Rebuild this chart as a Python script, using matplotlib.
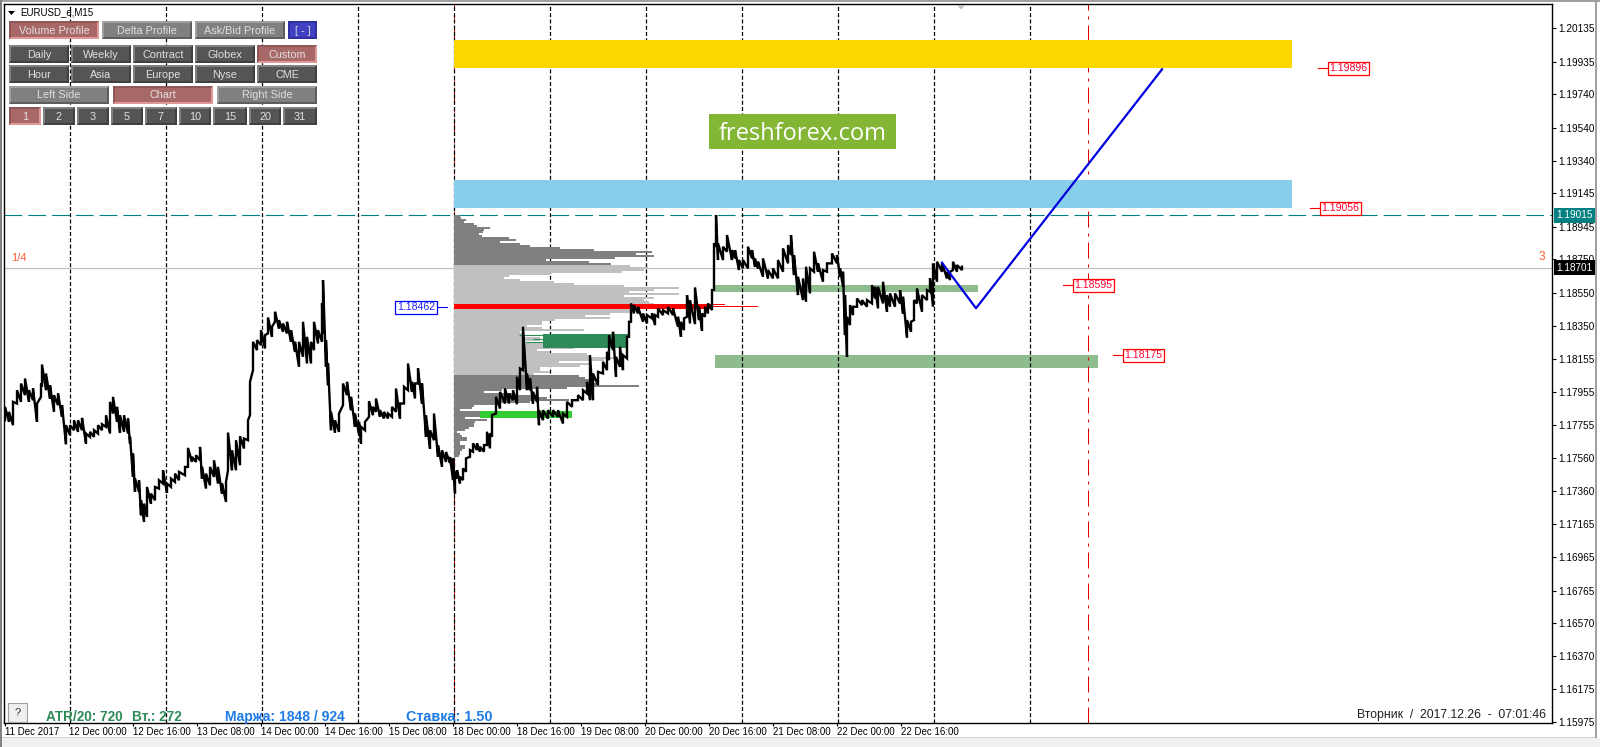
import matplotlib
matplotlib.use("Agg")
import matplotlib.pyplot as plt
from matplotlib.patches import Rectangle, Polygon

plt.rcParams["font.family"] = ["Liberation Sans", "DejaVu Sans"]

# price bars, x is the bar number on the chart, prices in points (1e-5)
bar_x = [5, 9, 13, 17, 21, 25, 29, 33, 37, 41, 42, 46, 50, 54, 58, 62, 66, 70, 74, 78, 82, 86, 90, 94, 98, 102, 106, 110, 113, 117,
         120, 124, 128, 130, 133, 135, 139, 141, 144, 147, 151, 155, 159, 163, 167, 171, 175, 179, 185, 188, 192, 196, 200, 202, 206, 210, 214, 218, 222, 226,
         228, 232, 236, 240, 244, 248, 250, 253, 257, 261, 265, 268, 272, 275, 279, 283, 287, 291, 295, 299, 303, 307, 311, 314, 318, 322, 323, 326, 328, 331,
         335, 339, 343, 347, 351, 355, 359, 361, 365, 369, 373, 376, 380, 384, 388, 392, 396, 400, 404, 408, 412, 415, 418, 422, 426, 430, 434, 438, 442, 446, 450,
         453, 455, 457, 460, 463, 466, 470, 473, 477, 480, 484, 487, 490, 492,
         496, 500, 505, 509, 513, 517, 520, 523, 527, 530, 533, 537, 539, 543, 548, 553, 558, 563, 567, 572, 578, 583, 587, 590, 593, 598, 603, 607, 609, 613, 616, 620, 623, 627, 629, 631,
         634, 638, 643, 647, 652, 655, 658, 663, 668, 673, 678, 681, 684, 687, 690, 695, 699, 702, 705, 708, 712, 714, 716,
         718, 723, 727, 732, 735, 739, 743, 748, 752, 755, 758, 763, 768, 773, 778, 783, 788, 791, 794, 798, 803, 806, 810, 814, 818, 823, 827, 832, 837, 840, 843, 845, 847,
         850, 853, 857, 862, 867, 872, 875, 878, 883, 887, 890, 895, 900, 903, 907, 911, 914, 917, 922, 927, 930, 933, 937, 942, 947, 950, 953, 957, 962]
bar_high = [117866, 117836, 117896, 117966, 118006, 118036, 117966, 117976, 117886, 118006, 118120, 118066, 117996, 117936, 117946, 117876, 117756, 117756, 117786, 117786, 117800, 117706, 117716, 117726, 117756, 117762, 117816, 117896, 117926, 117866,
            117816, 117816, 117796, 117686, 117586, 117436, 117426, 117306, 117286, 117386, 117346, 117386, 117426, 117486, 117406, 117436, 117466, 117476, 117506, 117620, 117566, 117576, 117626, 117506, 117466, 117506, 117546, 117506, 117406, 117416,
            117712, 117606, 117666, 117690, 117676, 117786, 118016, 118256, 118266, 118326, 118296, 118402, 118346, 118436, 118386, 118366, 118376, 118326, 118256, 118256, 118376, 118286, 118256, 118376, 118326, 118486, 118626, 118266, 118126, 117836,
            117786, 117826, 118006, 118016, 117926, 117826, 117776, 117746, 117776, 117900, 117866, 117916, 117846, 117836, 117826, 117866, 117976, 117886, 117986, 118126, 118016, 118006, 118096, 118006, 117816, 117726, 117826, 117636, 117606, 117596, 117566,
            117557, 117477, 117487, 117447, 117497, 117557, 117607, 117647, 117647, 117627, 117637, 117717, 117707, 117817,
            117926, 117956, 117976, 117946, 117966, 118046, 118096, 118346, 118066, 118036, 117956, 117986, 117846, 117846, 117846, 117846, 117846, 117826, 117896, 117906, 117936, 117966, 118016, 118176, 118066, 118076, 118136, 118196, 118296, 118316, 118166, 118226, 118176, 118286, 118376, 118486,
            118476, 118466, 118426, 118416, 118426, 118416, 118456, 118446, 118466, 118456, 118406, 118376, 118396, 118536, 118506, 118582, 118466, 118426, 118466, 118486, 118566, 118846, 119016,
            118846, 118826, 118896, 118806, 118806, 118746, 118746, 118826, 118806, 118756, 118736, 118756, 118686, 118696, 118746, 118816, 118836, 118896, 118776, 118646, 118636, 118706, 118696, 118796, 118726, 118686, 118726, 118786, 118776, 118696, 118676, 118536, 118406,
            118476, 118466, 118516, 118506, 118506, 118596, 118586, 118586, 118616, 118536, 118546, 118546, 118566, 118526, 118386, 118376, 118506, 118576, 118536, 118566, 118636, 118726, 118736, 118726, 118676, 118676, 118736, 118716, 118706]
bar_low = [117786, 117776, 117756, 117886, 117896, 117936, 117896, 117906, 117776, 117926, 117986, 117966, 117916, 117836, 117876, 117806, 117642, 117696, 117726, 117716, 117726, 117646, 117686, 117686, 117706, 117726, 117746, 117706, 117826, 117776,
           117710, 117716, 117706, 117646, 117446, 117356, 117356, 117216, 117176, 117206, 117286, 117306, 117376, 117406, 117350, 117386, 117416, 117426, 117456, 117506, 117536, 117536, 117546, 117436, 117376, 117396, 117446, 117406, 117346, 117296,
           117486, 117486, 117486, 117516, 117616, 117666, 117816, 118086, 118206, 118236, 118216, 118306, 118286, 118376, 118336, 118316, 118306, 118256, 118196, 118106, 118166, 118126, 118126, 118206, 118246, 118256, 118306, 118106, 117996, 117726,
           117710, 117716, 117876, 117936, 117846, 117746, 117706, 117646, 117726, 117806, 117816, 117836, 117806, 117796, 117796, 117806, 117836, 117796, 117886, 117966, 117956, 117916, 118006, 117886, 117686, 117616, 117666, 117566, 117506, 117536, 117530,
           117427, 117347, 117437, 117407, 117427, 117477, 117567, 117597, 117607, 117597, 117597, 117637, 117617, 117687,
           117826, 117856, 117886, 117886, 117906, 117882, 117966, 118086, 117966, 117966, 117886, 117896, 117756, 117786, 117796, 117806, 117806, 117766, 117806, 117866, 117906, 117906, 117946, 117906, 117906, 117996, 118066, 118086, 118146, 118206, 118046, 118106, 118086, 118156, 118286, 118376,
           118426, 118426, 118376, 118366, 118396, 118356, 118406, 118416, 118426, 118416, 118346, 118286, 118326, 118406, 118366, 118362, 118386, 118322, 118406, 118426, 118446, 118566, 118826,
           118746, 118746, 118796, 118746, 118756, 118686, 118696, 118696, 118756, 118706, 118696, 118646, 118636, 118636, 118636, 118676, 118726, 118776, 118656, 118536, 118506, 118496, 118546, 118676, 118676, 118616, 118676, 118726, 118726, 118646, 118586, 118296, 118166,
           118356, 118416, 118466, 118476, 118466, 118486, 118516, 118456, 118486, 118436, 118466, 118466, 118486, 118426, 118282, 118316, 118386, 118486, 118436, 118506, 118556, 118466, 118616, 118676, 118636, 118626, 118686, 118676, 118686]

# volume profile, widths in bars, rows going down from profile_top
profile_start = 454
profile_top = 119010
profile_step = 12
profile_width = [6, 7, 12, 10, 20, 23, 36, 30, 29, 25, 28, 55, 62, 46, 66, 76, 106, 140, 198, 182, 200, 161, 92, 135, 157,
                 176, 194, 190, 168, 96, 55, 50, 66, 100, 120, 170, 225, 200, 175, 225, 170, 200, 190, 195,
                 200, 200, 200,
                 176, 176, 156, 131, 156, 101, 88, 88, 73, 88,
                 130, 66, 70, 70, 86, 86, 70, 141, 141, 120, 83, 96, 133, 135, 161, 150, 105, 135, 126, 86, 86, 96, 80,
                 125, 131, 143, 135, 143, 185, 113, 48, 30, 61, 80, 93, 115, 76, 43, 20, 18, 6, 28, 43, 28, 11, 33, 21, 20,
                 20, 15, 11, 3, 6, 8, 13, 13, 6, 6, 11, 11, 8, 6, 6, 5, 1]
va_high = 118716
va_low = 118056
poc_price = 1.18467
poc_width = 259
poc_thin_price = [1.18478, 1.18466]
poc_thin_width = [271, 304]
seagreen_lines_price = [1.18297, 1.18271, 1.18255, 1.18223]
seagreen_lines_start = [519, 533, 525, 565]
seagreen_lines_end = [550, 550, 550, 590]

# forecast line
forecast_x = [942, 976, 1162]
forecast_y = [1.18730, 1.18457, 1.19889]

session_bars = [69.5, 165.5, 261.5, 357.5, 453.5, 549.5, 645.5, 741.5, 837.5, 933.5, 1029.5]
red_bars = [454, 1088]

y_ticks = [1.20135, 1.19935, 1.19740, 1.19540, 1.19340, 1.19145, 1.18945, 1.18750, 1.18550, 1.18350, 1.18155,
           1.17955, 1.17755, 1.17560, 1.17360, 1.17165, 1.16965, 1.16765, 1.16570, 1.16370, 1.16175, 1.15975]
x_labels = ["11 Dec 2017", "12 Dec 00:00", "12 Dec 16:00", "13 Dec 08:00", "14 Dec 00:00", "14 Dec 16:00", "15 Dec 08:00",
            "18 Dec 00:00", "18 Dec 16:00", "19 Dec 08:00", "20 Dec 00:00", "20 Dec 16:00", "21 Dec 08:00", "22 Dec 00:00", "22 Dec 16:00"]
x_ticks = [5, 69, 133, 197, 261, 325, 389, 453, 517, 581, 645, 709, 773, 837, 901]

tag_prices = [1.19896, 1.19056, 1.18595, 1.18175]
tag_bars = [1328, 1320, 1073, 1123]

WIDTH, HEIGHT = 1600, 747
fig = plt.figure(figsize=(16, 7.47), dpi=100, facecolor="white")
top_px, bottom_px, left_px, right_px = 4.3, 723, 4.3, 1551.7
ax = fig.add_axes([left_px / WIDTH, 1 - bottom_px / HEIGHT, (right_px - left_px) / WIDTH, (bottom_px - top_px) / HEIGHT])
ax.set_xlim(left_px, right_px)
ax.set_ylim(1.15971, 1.20279)

# zones
ax.add_patch(Rectangle((454, 1.19899), 838, 0.00166, fc="#FFD700", ec="none", zorder=2))
ax.add_patch(Rectangle((454, 1.19058), 838, 0.00168, fc="#87CEEB", ec="none", zorder=2))
ax.add_patch(Rectangle((715, 1.18554), 263, 0.00042, fc="#8FBC8F", ec="none", zorder=0.5))
ax.add_patch(Rectangle((715, 1.18098), 383, 0.00078, fc="#8FBC8F", ec="none", zorder=0.5))

# level lines
ax.axhline(1.18701, color="#C0C0C0", lw=0.9, zorder=0.8)
ax.axhline(1.19015, color="#008080", lw=0.8, linestyle=(0, (16, 5.4)), zorder=1)
for b in red_bars:
    ax.axvline(b, color="#E00000", lw=0.72, linestyle=(0, (16, 6, 3, 6)), zorder=0.9)
for b in session_bars:
    ax.axvline(b, color="black", lw=0.9, linestyle=(0, (3.2, 1.8)), zorder=1)

# profile
for i, w in enumerate(profile_width):
    level = profile_top - profile_step * i
    col = "#C0C0C0" if va_low < level < va_high else "#808080"
    ax.barh(level / 1e5, w, height=profile_step / 1e5, left=profile_start, color=col, lw=0, antialiased=False, zorder=2)
ax.barh(poc_price, poc_width, height=0.00030, left=profile_start, color="#FF0000", lw=0, zorder=2.6)
for p, w in zip(poc_thin_price, poc_thin_width):
    ax.barh(p, w, height=0.00006, left=profile_start, color="#FF0000", lw=0, zorder=2.6)

# green boxes on top of profile
ax.add_patch(Rectangle((543, 1.18218), 85, 0.00084, fc="#2E8B57", ec="none", zorder=2.5))
ax.add_patch(Rectangle((480, 1.17798), 92, 0.00042, fc="#32CD32", ec="none", zorder=2.5))
ax.hlines(seagreen_lines_price, seagreen_lines_start, seagreen_lines_end, color="#2E8B57", lw=0.8, zorder=2.5)

# price
px, py = [], []
for x, h, l in zip(bar_x, bar_high, bar_low):
    px += [x, x]
    py += [l / 1e5, h / 1e5]
ax.plot(px, py, color="black", lw=1.7, solid_joinstyle="miter", zorder=3)

ax.plot(forecast_x, forecast_y, color="#0000E0", lw=1.6, zorder=4)

# axis
ax.yaxis.tick_right()
ax.set_yticks(y_ticks)
ax.set_yticklabels(["%.5f" % t for t in y_ticks], fontsize=7.2)
ax.set_xticks(x_ticks)
ax.set_xticklabels(x_labels, fontsize=7, ha="left")
ax.tick_params(axis="y", length=3, width=0.8, pad=2)
ax.tick_params(axis="x", length=2.5, width=0.8, pad=0.5)
for s in ax.spines.values():
    s.set_linewidth(1.0)

# price tags
for p, b in zip(tag_prices, tag_bars):
    ax.plot([b - 10, b], [p, p], color="#FF0000", lw=0.8, zorder=5)
    ax.text(b + 1.5, p, "%.5f" % p, color="#FF0030", fontsize=7.6, ha="left", va="center", zorder=6,
            bbox=dict(fc="white", ec="#FF0000", lw=0.9, pad=1.2))
ax.plot([436, 447], [1.18462, 1.18462], color="#0000FF", lw=0.8, zorder=5)
ax.text(397, 1.18462, "1.18462", color="#2020FF", fontsize=7.6, ha="left", va="center", zorder=6,
        bbox=dict(fc="white", ec="#0000FF", lw=0.9, pad=1.2))

ax.text(1556, 1.19015, "1.19015", color="white", fontsize=7.2, ha="left", va="center", zorder=6,
        bbox=dict(fc="#008080", ec="#008080", lw=0, pad=1.7), clip_on=False)
ax.text(1556, 1.18701, "1.18701", color="white", fontsize=7.2, ha="left", va="center", zorder=6,
        bbox=dict(fc="black", ec="black", lw=0, pad=1.7), clip_on=False)

# overlay in figure pixels for the terminal widgets
ov = fig.add_axes([0, 0, 1, 1], zorder=10)
ov.set_xlim(0, WIDTH)
ov.set_ylim(HEIGHT, 0)
ov.axis("off")
ov.patch.set_alpha(0)


def button(x0, y0, x1, y1, label, fill, tl, br, col="#E0E0E0"):
    ov.add_patch(Rectangle((x0, y0), x1 - x0, y1 - y0, fc=br, ec="none"))
    ov.add_patch(Polygon([(x0, y1), (x0, y0), (x1, y0), (x1 - 2, y0 + 2), (x0 + 2, y0 + 2), (x0 + 2, y1 - 2)], fc=tl, ec="none"))
    ov.add_patch(Rectangle((x0 + 2, y0 + 2), x1 - x0 - 4, y1 - y0 - 4, fc=fill, ec="none"))
    ov.text((x0 + x1) / 2, (y0 + y1) / 2 + 0.5, label, color=col, fontsize=7.8, ha="center", va="center")


PINK = ("#A86868", "#8C5858", "#E09898")
GRAY = ("#808080", "#A0A0A0", "#5E5E5E")
DARK = ("#555555", "#808080", "#404040")
BLUE = ("#4040C0", "#3030A0", "#3030A0")

row1 = [("Volume Profile", 9, 99, PINK), ("Delta Profile", 102, 192, GRAY), ("Ask/Bid Profile", 195, 285, GRAY), ("[ - ]", 288, 317, BLUE)]
for label, a, b, st in row1:
    button(a, 21, b, 39, label, *st)
row2 = [("Daily", 9, 69, DARK), ("Weekly", 71, 131, DARK), ("Contract", 133, 193, DARK), ("Globex", 195, 255, DARK), ("Custom", 257, 317, PINK)]
for label, a, b, st in row2:
    button(a, 45, b, 63, label, *st)
row3 = [("Hour", 9, 69), ("Asia", 71, 131), ("Europe", 133, 193), ("Nyse", 195, 255), ("CME", 257, 317)]
for label, a, b in row3:
    button(a, 65, b, 83, label, *DARK)
row4 = [("Left Side", 9, 109, GRAY), ("Chart", 113, 213, PINK), ("Right Side", 217, 317, GRAY)]
for label, a, b, st in row4:
    button(a, 86, b, 104, label, *st)
row5 = [("1", 9, 41, PINK), ("2", 43, 75, DARK), ("3", 77, 109, DARK), ("5", 111, 143, DARK), ("7", 145, 177, DARK),
        ("10", 179, 211, DARK), ("15", 213, 247, DARK), ("20", 249, 281, DARK), ("31", 283, 317, DARK)]
for label, a, b, st in row5:
    button(a, 107, b, 125, label, *st)

ov.add_patch(Polygon([(8, 11), (15, 11), (11.5, 15)], fc="black", ec="none"))
ov.text(20, 12.5, "EURUSD_e,M15", fontsize=7, color="black", ha="left", va="center")
ov.add_patch(Polygon([(957, 5), (965, 5), (961, 9.5)], fc="#C0C0C0", ec="none"))

# logo
ov.add_patch(Rectangle((709, 114), 187, 35, fc="#84B635", ec="none"))
ov.text(802.5, 133.5, "freshforex.com", color="white", fontsize=17, family="Open Sans", ha="center", va="center")

# side numbers
ov.text(11, 258, "1/4", color="#FF5A30", fontsize=8, ha="left", va="center")
ov.text(1542, 257.5, "3", color="#FF5A30", fontsize=8.5, ha="center", va="center")

# status line
ov.add_patch(Rectangle((8, 703), 19, 19, fc="#F0F0F0", ec="#A0A0A0", lw=0.8))
ov.text(17.5, 712.5, "?", fontsize=8, color="#303030", ha="center", va="center")
ov.text(46, 717, "ATR/20: 720", color="#2E8B57", fontsize=9.8, fontweight="bold", ha="left", va="center")
ov.text(132, 717, "Вт.: 272", color="#2E8B57", fontsize=9.8, fontweight="bold", ha="left", va="center")
ov.text(225, 717, "Маржа: 1848 / 924", color="#1E7BE6", fontsize=10, fontweight="bold", ha="left", va="center")
ov.text(406, 717, "Ставка: 1.50", color="#1E7BE6", fontsize=10.4, fontweight="bold", ha="left", va="center")
ov.text(1546, 715, "Вторник  /  2017.12.26  -  07:01:46", color="#202020", fontsize=8.8, ha="right", va="center")

# window edges
ov.add_patch(Rectangle((0, 0), 1600, 2, fc="#A0A0A0", ec="none"))
ov.add_patch(Rectangle((0, 0), 2, 747, fc="#808080", ec="none"))
ov.add_patch(Rectangle((1595, 0), 2, 747, fc="#A0A0A0", ec="none"))
ov.add_patch(Rectangle((2, 738), 1598, 9, fc="#F0F0F0", ec="none"))
ov.add_patch(Rectangle((2, 737), 1593, 1, fc="#D0D0D0", ec="none"))

fig.savefig("out.png", dpi=100)
